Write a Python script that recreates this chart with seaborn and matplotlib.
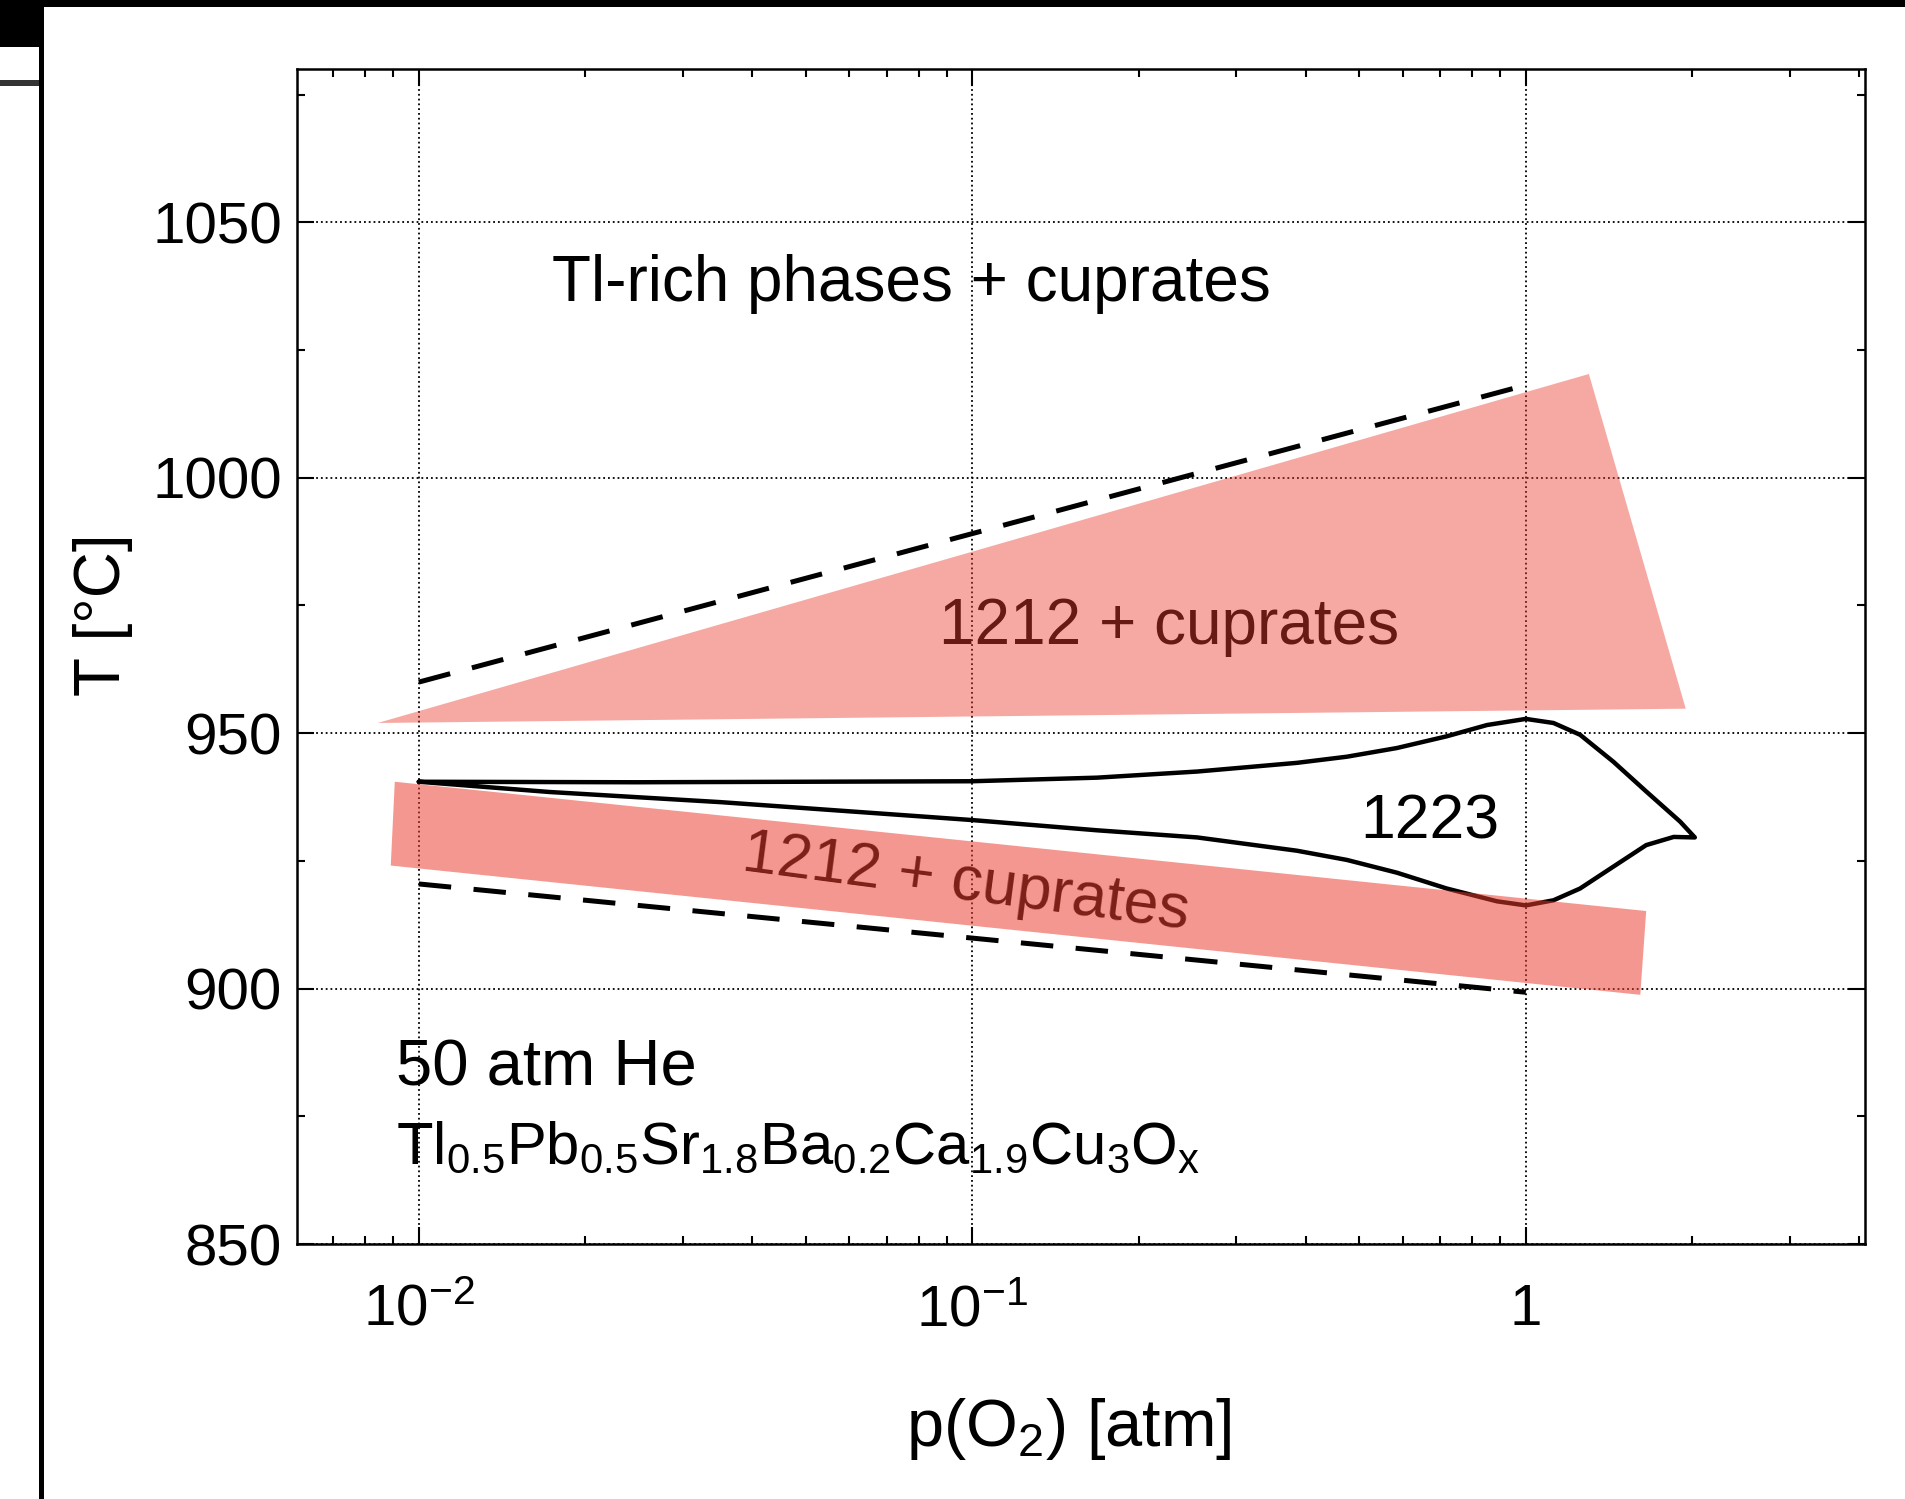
import matplotlib
matplotlib.use("Agg")
import matplotlib.pyplot as plt
from matplotlib.patches import Rectangle
from matplotlib.ticker import LogLocator, MultipleLocator, NullFormatter, FixedLocator
import numpy as np
import pandas as pd
import seaborn as sns

# 1223 phase field boundary, p(O2) in atm, T in degC
upper_p = [0.01, 0.0247, 0.1, 0.168, 0.255, 0.386, 0.475, 0.585, 0.72, 0.851, 1.0, 1.122, 1.253, 1.44, 1.65, 1.90, 2.02]
upper_T = [940.5, 940.4, 940.6, 941.3, 942.5, 944.2, 945.4, 947.1, 949.4, 951.6, 952.8, 952.0, 949.7, 944.4, 938.6, 932.7, 929.6]
lower_p = [0.01, 0.0172, 0.0352, 0.1, 0.168, 0.255, 0.386, 0.475, 0.585, 0.72, 0.887, 1.0, 1.122, 1.253, 1.44, 1.65, 1.85, 2.02]
lower_T = [940.5, 938.5, 936.5, 933.0, 931.0, 929.6, 927.0, 925.2, 922.7, 919.6, 917.1, 916.3, 917.3, 919.6, 923.9, 928.1, 929.7, 929.6]

# dashed stability limits
upper_dash_p = [0.01, 1.03]
upper_dash_T = [960.0, 1018.5]
lower_dash_p = [0.01, 1.0]
lower_dash_T = [920.5, 899.3]

# shaded "1212 + cuprates" regions
tri_p = [0.00843, 1.30, 1.945]
tri_T = [952.0, 1020.3, 954.8]
band_p = [0.00905, 1.65, 1.61, 0.00890]
band_T = [940.5, 915.2, 898.8, 924.1]

x_ticks = [0.01, 0.1, 1]
x_ticklabels = [r"$\mathregular{10^{-2}}$", r"$\mathregular{10^{-1}}$", "1"]
y_ticks = [850, 900, 950, 1000, 1050]

formula = (r"Tl$\mathregular{_{0.5}}$Pb$\mathregular{_{0.5}}$Sr$\mathregular{_{1.8}}$"
           r"Ba$\mathregular{_{0.2}}$Ca$\mathregular{_{1.9}}$Cu$\mathregular{_3}$O$\mathregular{_x}$")

sns.set_theme(style="ticks", rc={
    "text.color": "black", "axes.labelcolor": "black",
    "xtick.color": "black", "ytick.color": "black",
    "axes.edgecolor": "black",
})
plt.rcParams["font.family"] = ["Liberation Sans", "DejaVu Sans"]
plt.rcParams["mathtext.fontset"] = "custom"
plt.rcParams["mathtext.rm"] = "Liberation Sans"
plt.rcParams["mathtext.it"] = "Liberation Sans:italic"
plt.rcParams["mathtext.bf"] = "Liberation Sans:bold"

fig = plt.figure(figsize=(19.05, 14.99), dpi=100)
ax = fig.add_axes([0.156, 0.170, 0.823, 0.784])
ax.set_xscale("log")
ax.set_xlim(0.00603, 4.1)
ax.set_ylim(850, 1080)

pink = (236 / 255, 60 / 255, 45 / 255)

loop = pd.DataFrame({"p": upper_p + lower_p[::-1], "T": upper_T + lower_T[::-1]})
sns.lineplot(data=loop, x="p", y="T", sort=False, estimator=None,
             color="black", lw=3.2, solid_joinstyle="round", ax=ax, zorder=3)
sns.lineplot(x=upper_dash_p, y=upper_dash_T, color="black", lw=3.6,
             linestyle=(0, (6.5, 4.5)), ax=ax, zorder=3)
sns.lineplot(x=lower_dash_p, y=lower_dash_T, color="black", lw=3.6,
             linestyle=(0, (6.5, 4.5)), ax=ax, zorder=3)

ax.fill(tri_p, tri_T, color=pink, alpha=0.44, lw=0, zorder=4)
ax.fill(band_p, band_T, color=pink, alpha=0.53, lw=0, zorder=4)

ax.text(0.0776, 1034.6, "Tl-rich phases + cuprates", ha="center", va="baseline", fontsize=46)
ax.text(0.227, 967.5, "1212 + cuprates", ha="center", va="baseline", fontsize=46, zorder=2)
ax.text(0.670, 929.3, "1223", ha="center", va="baseline", fontsize=45, zorder=2)
ax.text(0.0967, 917.4, "1212 + cuprates", ha="center", va="baseline", rotation=-7.5,
        rotation_mode="anchor", fontsize=45, zorder=2)
ax.text(0.0091, 881.0, "50 atm He", ha="left", va="baseline", fontsize=47)
ax.text(0.0091, 865.7, formula, ha="left", va="baseline", fontsize=43)

ax.xaxis.set_major_locator(FixedLocator(x_ticks))
ax.set_xticklabels(x_ticklabels)
ax.xaxis.set_minor_locator(LogLocator(base=10, subs=np.arange(2, 10)))
ax.xaxis.set_minor_formatter(NullFormatter())
ax.set_yticks(y_ticks)
ax.yaxis.set_minor_locator(MultipleLocator(25))

ax.grid(True, which="major", ls=":", lw=1.3, color="black")
ax.set_axisbelow(True)

ax.tick_params(axis="both", which="both", direction="in", top=True, right=True, width=1.5)
ax.tick_params(which="major", length=12)
ax.tick_params(which="minor", length=6)
ax.tick_params(axis="x", labelsize=42, pad=28)
ax.tick_params(axis="y", labelsize=42, pad=11)
for s in ax.spines.values():
    s.set_linewidth(1.8)

ax.set_xlabel(r"p(O$\mathregular{_2}$) [atm]", fontsize=48)
ax.xaxis.set_label_coords(0.492, -0.129)
ax.set_ylabel("T [°C]", fontsize=46)
ax.yaxis.set_label_coords(-0.105, 0.536)

# scan border
fig.add_artist(Rectangle((0, 1 - 7 / 1499), 1, 7 / 1499, transform=fig.transFigure, color="black", lw=0))
fig.add_artist(Rectangle((0, 1 - 47 / 1499), 44 / 1905, 47 / 1499, transform=fig.transFigure, color="black", lw=0))
fig.add_artist(Rectangle((39 / 1905, 0), 5 / 1905, 1, transform=fig.transFigure, color="black", lw=0))
fig.add_artist(Rectangle((0, 1 - 86 / 1499), 39 / 1905, 6 / 1499, transform=fig.transFigure, color="#333333", lw=0))

fig.savefig("out.png", dpi=100)
